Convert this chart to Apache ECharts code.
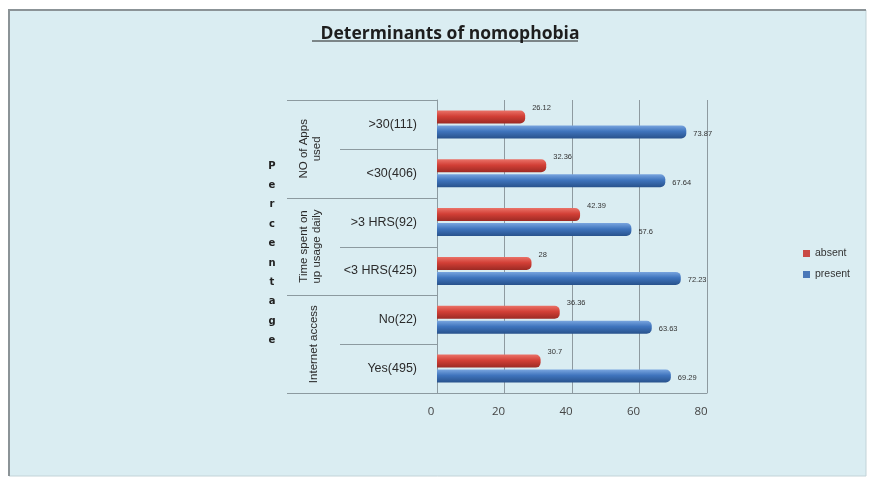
<!DOCTYPE html>
<html>
<head>
<meta charset="utf-8">
<script src="https://cdn.jsdelivr.net/npm/echarts@6/dist/echarts.min.js"></script>
<style>
  html, body { margin: 0; padding: 0; background: #ffffff; }
  #chart { width: 870px; height: 479px; }
</style>
</head>
<body>
<div id="chart"></div>
<script>
// Categories, top to bottom as drawn
const categories = ['>30(111)', '<30(406)', '>3 HRS(92)', '<3 HRS(425)', 'No(22)', 'Yes(495)'];
// Group headings, each spanning two categories
const groups = ['NO of Apps\nused', 'Time spent on\nup usage daily', 'Internet access'];
// Percentages per category (same order as categories)
const absentValues = [26.12, 32.36, 42.39, 28, 36.36, 30.7];
const presentValues = [73.87, 67.64, 57.6, 72.23, 63.63, 69.29];
const xTicks = [0, 20, 40, 60, 80];
const sideTitle = 'Percentage';

const gridLeft = 437, gridTop = 100, gridHeight = 293, gridWidth = 270;
const band = gridHeight / categories.length;

const chart = echarts.init(document.getElementById('chart'));

function barGradient(top, mid, bottom) {
  return new echarts.graphic.LinearGradient(0, 0, 0, 1, [
    { offset: 0, color: top },
    { offset: 0.45, color: mid },
    { offset: 1, color: bottom }
  ]);
}

// Table lines and headings on the left of the plot
const tableGraphics = [];
for (let i = 0; i <= categories.length; i++) {
  const y = Math.round(gridTop + i * band) + 0.5;
  const long = i % 2 === 0;
  tableGraphics.push({
    type: 'line',
    shape: { x1: long ? 287 : 340, y1: y, x2: gridLeft, y2: y },
    style: { stroke: '#8c9aa0', lineWidth: 1 },
    z: 5
  });
}
groups.forEach((g, k) => {
  const cy = gridTop + (2 * k + 1) * band;
  tableGraphics.push({
    type: 'text',
    x: g.includes('\n') ? 310 : 314, y: cy,
    rotation: Math.PI / 2,
    style: {
      text: g, fill: '#2b2b2b', font: '11.5px "Liberation Sans Narrow", "Liberation Sans", Arial',
      align: 'center', verticalAlign: 'middle', lineHeight: 13
    },
    z: 6
  });
});
// Vertical, letter-stacked side title
sideTitle.split('').forEach((ch, i) => {
  tableGraphics.push({
    type: 'text',
    x: 272, y: 166 + i * 19.4,
    style: {
      text: ch, fill: '#222',
      font: 'bold 10px "DejaVu Sans", sans-serif', align: 'center', verticalAlign: 'middle'
    },
    z: 6
  });
});

chart.setOption({
  animation: false,
  backgroundColor: '#ffffff',
  title: {
    text: 'Determinants of nomophobia',
    left: 445, top: 20, textAlign: 'center',
    textStyle: {
      fontFamily: 'Open Sans, sans-serif', fontWeight: 'bold', fontSize: 17.5,
      color: '#1e1e1e'
    }
  },
  legend: {
    orient: 'vertical',
    left: 798, top: 243,
    itemWidth: 7, itemHeight: 7, itemGap: 10,
    icon: 'rect',
    textStyle: { fontSize: 10.5, color: '#333', fontFamily: 'Liberation Sans, Arial' },
    data: [
      { name: 'absent', itemStyle: { color: '#c94a45' } },
      { name: 'present', itemStyle: { color: '#4a78b8' } }
    ]
  },
  grid: { left: gridLeft, top: gridTop, width: gridWidth, height: gridHeight },
  xAxis: {
    type: 'value', min: 0, max: 80, interval: 20,
    axisLine: { show: true, lineStyle: { color: '#8c9aa0', width: 1 } },
    axisTick: { show: false },
    axisLabel: {
      margin: 13, color: '#444', fontSize: 11.5, fontFamily: 'Open Sans, sans-serif',
      padding: [0, 12, 0, 0],
      formatter: v => (xTicks.includes(v) ? String(v) : '')
    },
    splitLine: { show: true, lineStyle: { color: '#8e9aa0', width: 1 } }
  },
  yAxis: {
    type: 'category', inverse: true, data: categories,
    axisLine: { show: true, lineStyle: { color: '#8c9aa0' } },
    axisTick: { show: false },
    axisLabel: {
      margin: 20, color: '#2b2b2b', fontSize: 12.5,
      fontFamily: '"Liberation Sans", Arial'
    }
  },
  series: [
    {
      name: 'absent', type: 'bar', data: absentValues,
      barWidth: 13, barGap: '15%',
      itemStyle: {
        color: barGradient('#ea7268', '#d23f36', '#9c2a24'),
        borderRadius: [0, 5, 5, 0]
      },
      label: {
        show: true, position: 'right', offset: [2, -9],
        fontSize: 7.5, color: '#333', fontFamily: 'Liberation Sans, Arial'
      }
    },
    {
      name: 'present', type: 'bar', data: presentValues,
      barWidth: 13,
      itemStyle: {
        color: barGradient('#79a5df', '#3f74bd', '#28528c'),
        borderRadius: [0, 5, 5, 0]
      },
      label: {
        show: true, position: 'right', offset: [2, 2],
        fontSize: 7.5, color: '#333', fontFamily: 'Liberation Sans, Arial'
      }
    }
  ],
  graphic: [
    {
      type: 'rect', z: -10, silent: true,
      shape: { x: 9, y: 10, width: 857, height: 466 },
      style: { fill: '#daedf2', stroke: '#c3d3d8', lineWidth: 1 }
    },
    {
      type: 'polyline', z: -9, silent: true,
      shape: { points: [[9, 476], [9, 10], [866, 10]] },
      style: { stroke: '#8b9397', lineWidth: 2, fill: null }
    },
    {
      type: 'line', z: 3, silent: true,
      shape: { x1: 312, y1: 41, x2: 578, y2: 41 },
      style: { stroke: '#1e1e1e', lineWidth: 1 }
    },
    ...tableGraphics
  ]
});
</script>
</body>
</html>
